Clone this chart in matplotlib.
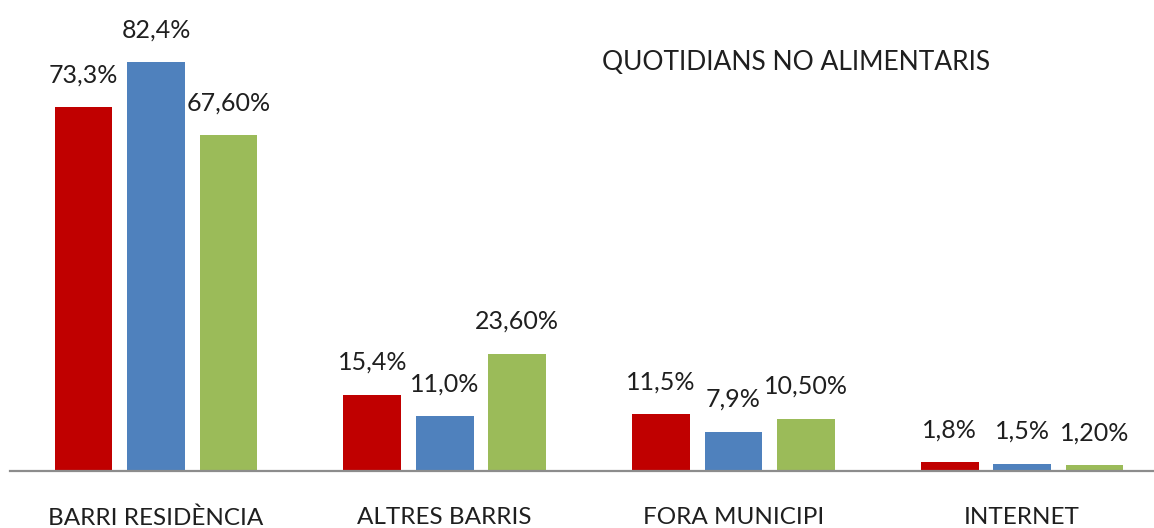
import matplotlib
matplotlib.use("Agg")
import matplotlib.pyplot as plt
import numpy as np

plt.rcParams['font.family'] = ['Lato', 'DejaVu Sans']

categories = ["BARRI RESIDÈNCIA", "ALTRES BARRIS", "FORA MUNICIPI", "INTERNET"]
series_red = [73.3, 15.4, 11.5, 1.8]
series_blue = [82.4, 11.0, 7.9, 1.5]
series_green = [67.6, 23.6, 10.5, 1.2]
labels_red = ["73,3%", "15,4%", "11,5%", "1,8%"]
labels_blue = ["82,4%", "11,0%", "7,9%", "1,5%"]
labels_green = ["67,60%", "23,60%", "10,50%", "1,20%"]
title = "QUOTIDIANS NO ALIMENTARIS"

colors = ["#C00000", "#4F81BD", "#9BBB59"]
W, H = 1154, 528
fig = plt.figure(figsize=(W / 100, H / 100), dpi=100)
base_y = 471
scale = (471 - 62) / 82.4
ymax = 90
ax_h = ymax * scale
unit = 288.7
left_px = 10
x0 = (left_px - 156) / unit
x1 = (W - 156) / unit
ax = fig.add_axes([left_px / W, (H - base_y) / H, (W - left_px) / W, ax_h / H])
ax.set_xlim(x0, x1)
ax.set_ylim(0, ymax)

x = np.arange(len(categories))
width = 0.2
offs = [-0.251, 0.0, 0.251]
txt_color = "#1f1f1f"
for vals, labs, col, off in zip([series_red, series_blue, series_green],
                                [labels_red, labels_blue, labels_green], colors, offs):
    bars = ax.bar(x + off, vals, width, color=col, edgecolor='none', zorder=2)
    for b, v, l in zip(bars, vals, labs):
        ax.annotate(l, (b.get_x() + b.get_width() / 2, v), xytext=(0, 15),
                    textcoords='offset points', ha='center', va='bottom',
                    fontsize=18, color=txt_color)

for s in ['top', 'right', 'left']:
    ax.spines[s].set_visible(False)
ax.spines['bottom'].set_color('#8c8c8c')
ax.spines['bottom'].set_linewidth(1.6)
ax.set_yticks([])
ax.set_xticks(x)
ax.set_xticklabels(categories, fontsize=17.5, color=txt_color)
ax.tick_params(axis='x', length=0, pad=26)

fig.text(796 / W, 1 - 62 / H, title, ha='center', va='center', fontsize=19,
         color=txt_color)

fig.savefig("out.png", dpi=100)
